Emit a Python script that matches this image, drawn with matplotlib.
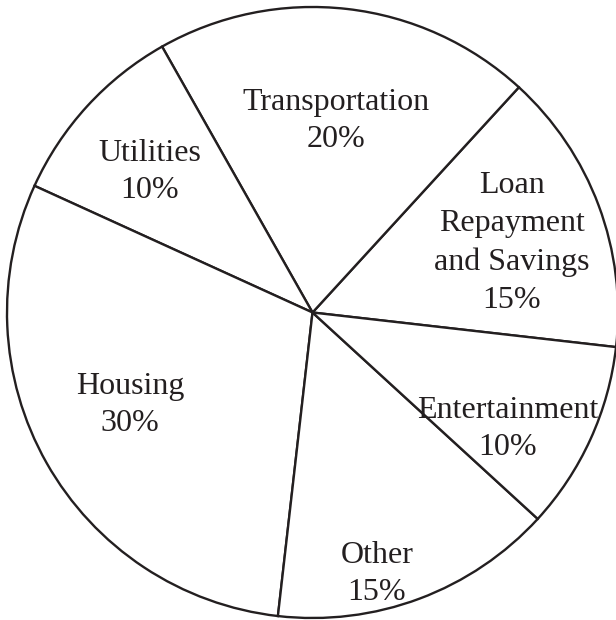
import matplotlib
matplotlib.use("Agg")
import matplotlib.pyplot as plt

categories = ["Loan\nRepayment\nand Savings", "Transportation", "Utilities",
              "Housing", "Other", "Entertainment"]
values = [15, 20, 10, 30, 15, 10]

# label block centres in pixel coordinates (x from left, y from top)
label_pos = [(512, 243), (336, 121), (150, 172), (130, 405), (377, 574), (508, 429)]

W, H = 616, 620
fig = plt.figure(figsize=(W / 100, H / 100), dpi=100)
ax = fig.add_axes([0, 0, 1, 1])

cx, cy, r = 312.5, H - 312.5, 305.5
ax.pie(values, startangle=-6.5, counterclock=True, center=(cx, cy), radius=r,
       colors=["white"] * len(values),
       wedgeprops=dict(edgecolor="#231f20", linewidth=1.7), frame=True)

for cat, v, (px, py) in zip(categories, values, label_pos):
    ax.text(px, H - py, f"{cat}\n{v}%", ha="center", va="center",
            fontsize=23, family="Liberation Serif", color="#231f20",
            linespacing=1.4)

ax.set_xlim(0, W)
ax.set_ylim(0, H)
ax.set_aspect("equal")
ax.axis("off")
fig.savefig("out.png", dpi=100, facecolor="white")
